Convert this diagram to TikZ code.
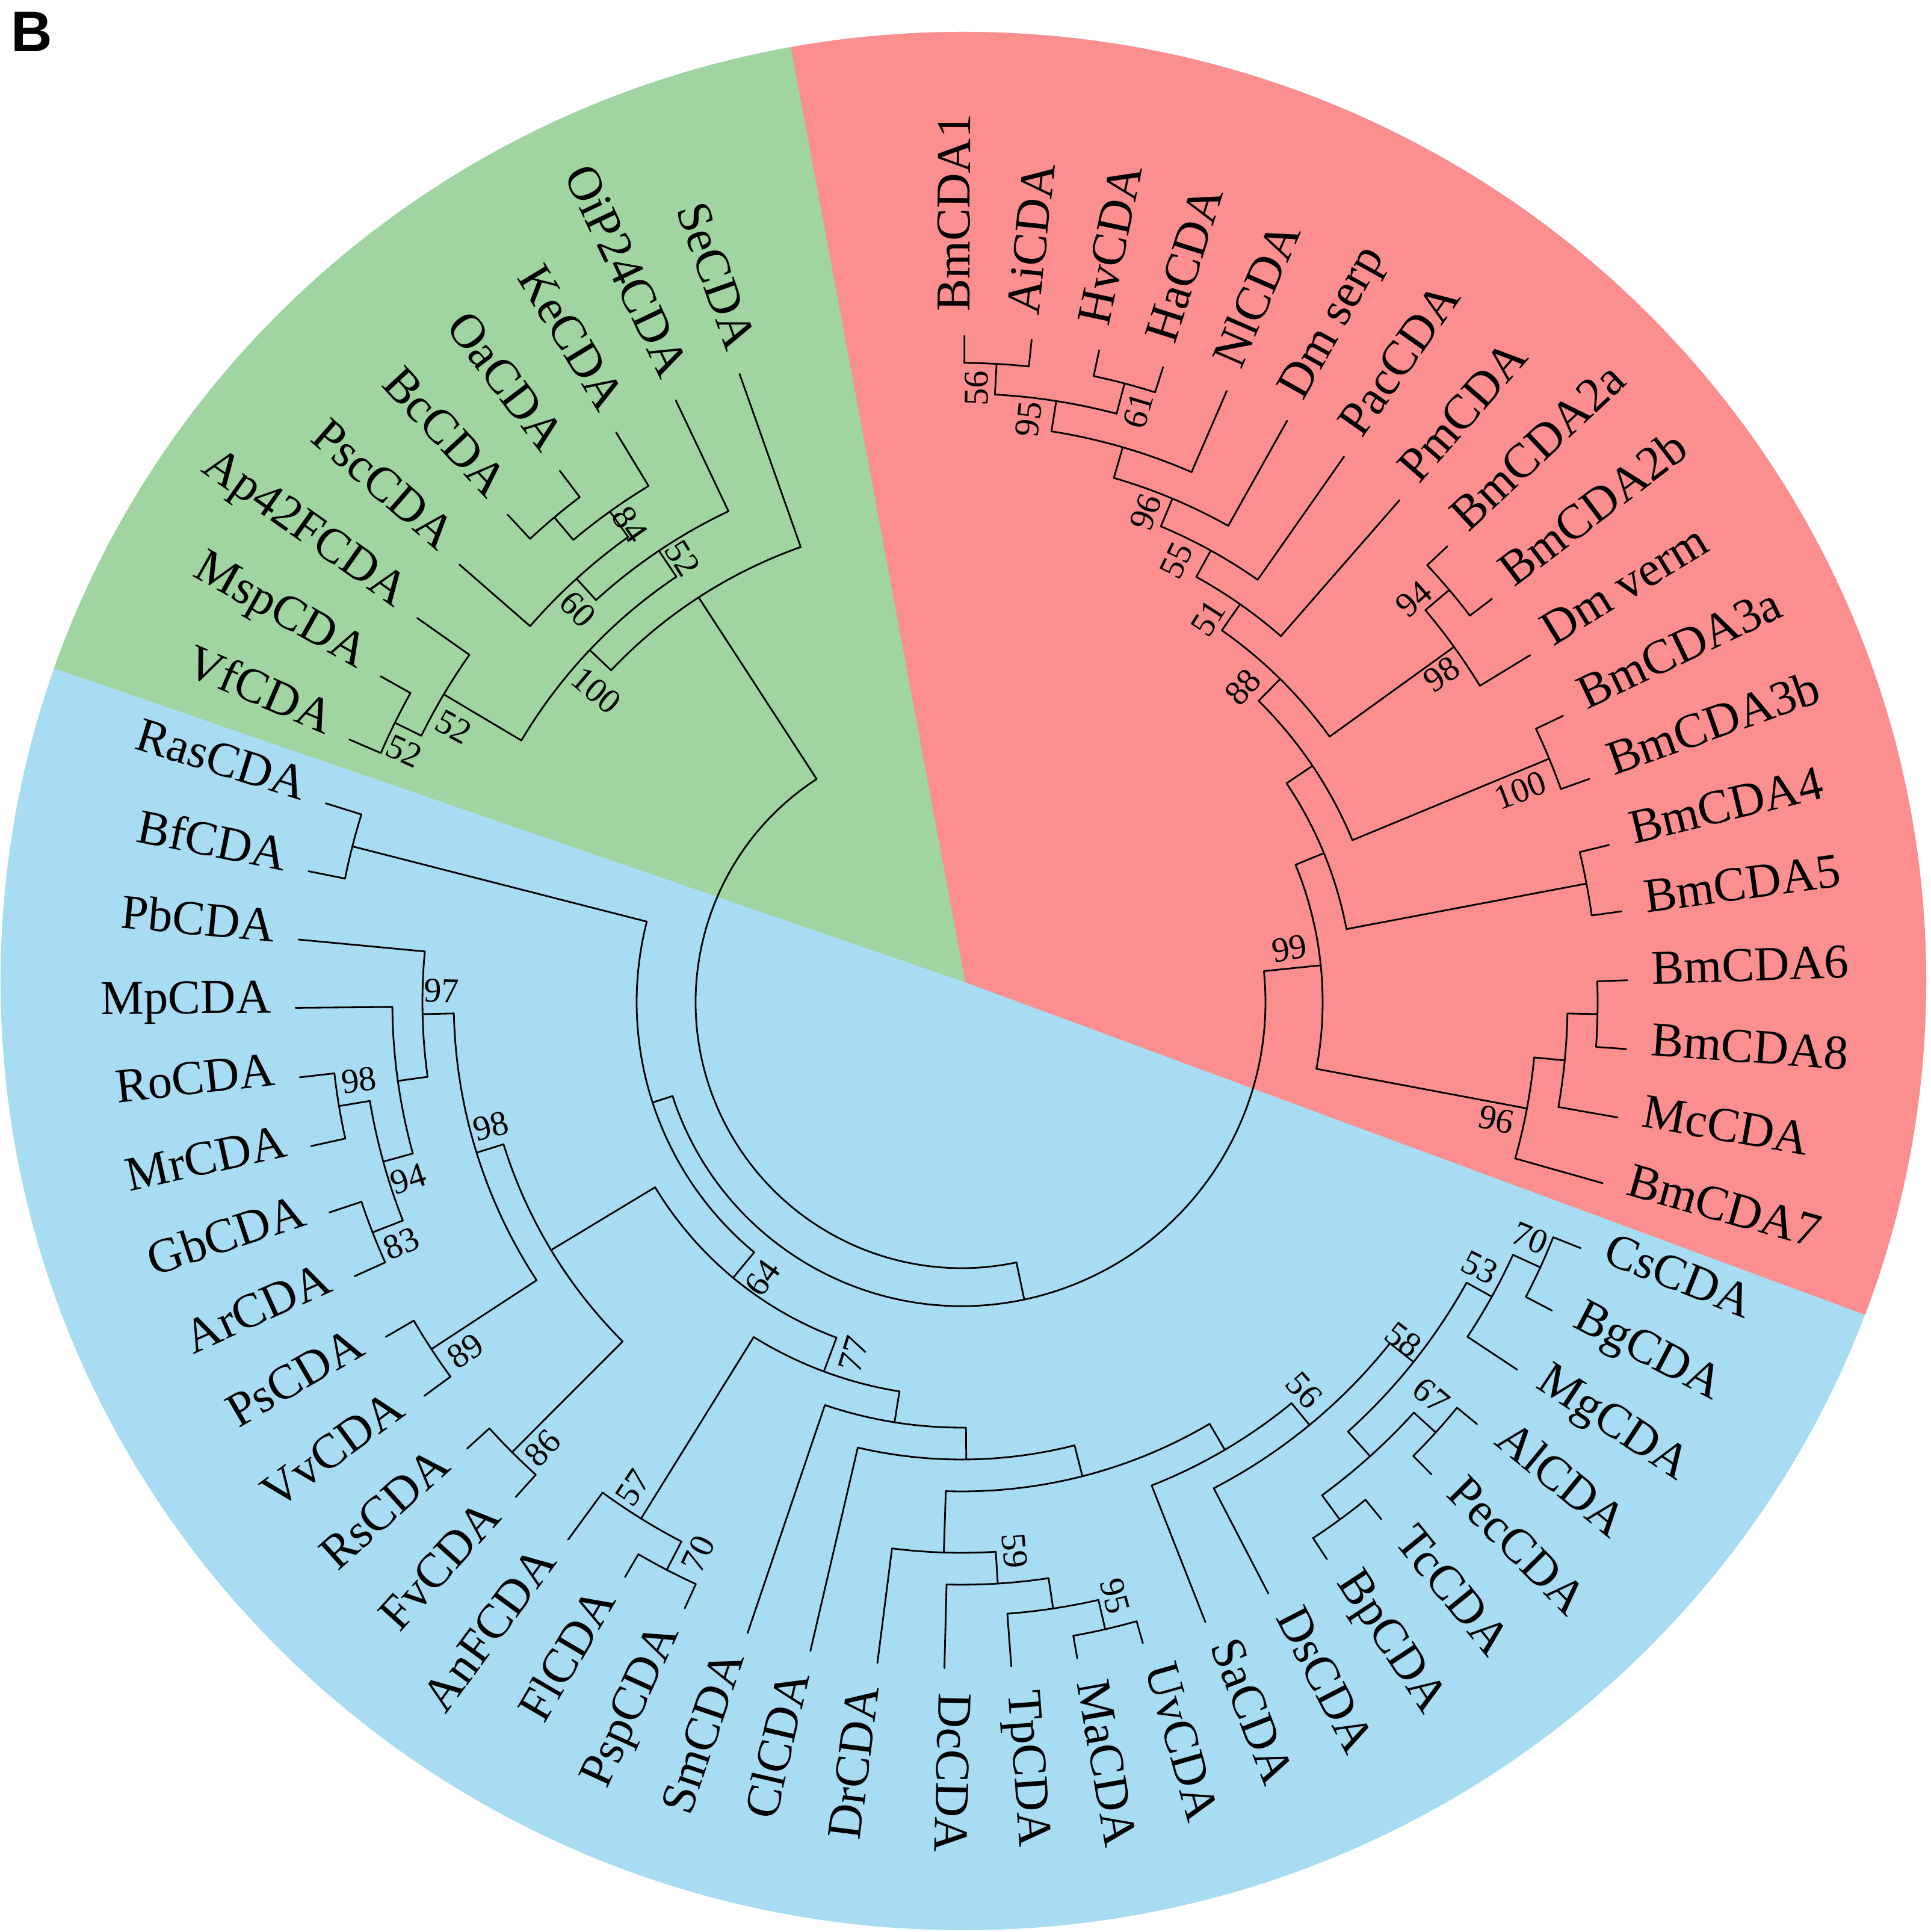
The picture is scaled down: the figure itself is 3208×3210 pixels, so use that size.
\documentclass[tikz,border=0pt]{standalone}
\usepackage{fontspec}
\setmainfont{Liberation Serif}
\newfontfamily\panelfont{Liberation Sans}
\usepackage{tikz}
\usetikzlibrary{calc}
\definecolor{cladegreen}{RGB}{160,212,160}
\definecolor{cladered}{RGB}{251,142,142}
\definecolor{cladeblue}{RGB}{168,220,242}

\tikzset{
  branch/.style={line width=0.8pt, line cap=round, line join=round},
  taxon/.style={inner sep=0pt, font=\fontsize{23}{26}\selectfont},
  boot/.style={inner sep=0pt, font=\fontsize{16.5}{18}\selectfont},
}
% arc of an internal node: from angle #1 to angle #2 at radius #3
\newcommand{\cladearc}[3]{\draw[branch] (#1:#3) arc[start angle=#1, end angle=#2, radius=#3];}
% stem of an internal node: at angle #1 from radius #2 down to radius #3
\newcommand{\cladestem}[3]{\draw[branch] (#1:#2) -- (#1:#3);}

\begin{document}
\begin{tikzpicture}[x=0.01cm, y=0.01cm]
\useasboundingbox (-1598,-1545) rectangle (1610,1665);

% coloured disk
\begin{scope}
\clip (3,35) ellipse [x radius=1600, y radius=1577];
\fill[cladeblue] (-1700,-1700) rectangle (1700,1700);
\fill[cladegreen] (6,33) -- (-341,1894) -- (-1805,1894) -- (-1805,657) -- cycle;
\fill[cladered] (6,33) -- (1806,-632) -- (1806,1894) -- (-341,1894) -- cycle;
\end{scope}

\node[anchor=base west, inner sep=0pt, font=\panelfont\bfseries\fontsize{27}{30}\selectfont] (panel) at (-1580,1579) {B};

% red clade
\cladearc{89.75}{83.96}{1062} \cladestem{86.86}{1062}{1011}
\cladearc{78.08}{72.39}{1063} \cladestem{75.24}{1063}{1011}
\cladearc{86.86}{75.24}{1011} \cladestem{81.05}{1011}{960}
\cladearc{81.05}{66.54}{960} \cladestem{73.8}{960}{907}
\cladearc{73.8}{60.75}{907} \cladestem{67.27}{907}{857}
\cladearc{67.27}{54.96}{857} \cladestem{61.1}{857}{807}
\cladearc{61.1}{48.89}{807} \cladestem{55.0}{807}{754}
\cladearc{43.17}{37.24}{1061} \cladestem{40.2}{1061}{1009}
\cladearc{40.2}{31.39}{1009} \cladestem{35.8}{1009}{754}
\cladearc{55.0}{35.8}{754} \cladestem{45.4}{754}{703}
\cladearc{25.45}{19.57}{1057} \cladestem{22.5}{1057}{703}
\cladearc{45.4}{22.5}{703} \cladestem{33.95}{703}{651}
\cladearc{13.64}{7.83}{1057} \cladestem{10.74}{1057}{651}
\cladearc{33.95}{10.74}{651} \cladestem{22.35}{651}{600}
\cladearc{1.88}{-4.04}{1057} \cladestem{-1.08}{1057}{1007}
\cladearc{-1.08}{-9.97}{1007} \cladestem{-5.52}{1007}{956}
\cladearc{-5.52}{-15.77}{956} \cladestem{-10.65}{956}{600}
\cladearc{22.35}{-10.65}{600} \cladestem{5.85}{600}{505}

% green clade
\cladearc{127.10}{132.97}{1052} \cladestem{130.04}{1052}{1003}
\cladearc{121.24}{130.04}{1003} \cladestem{125.64}{1003}{951}
\cladearc{125.64}{138.94}{951} \cladestem{132.29}{951}{903}
\cladearc{115.41}{132.29}{903} \cladestem{123.85}{903}{851}
\cladearc{150.72}{156.79}{1050} \cladestem{153.76}{1050}{1001}
\cladearc{144.80}{153.76}{1001} \cladestem{149.28}{1001}{851}
\cladearc{123.85}{149.28}{851} \cladestem{136.57}{851}{802}
\cladearc{109.47}{136.57}{802} \cladestem{123.02}{802}{442}

% blue clade
\cladearc{162.64}{168.67}{1045} \cladestem{165.66}{1045}{540}
\cladearc{186.48}{192.48}{1049} \cladestem{189.48}{1049}{997}
\cladearc{198.40}{204.30}{1051} \cladestem{201.35}{1051}{997}
\cladearc{189.48}{201.35}{997} \cladestem{195.42}{997}{946}
\cladearc{180.49}{195.42}{946} \cladestem{187.96}{946}{896}
\cladearc{174.61}{187.96}{896} \cladestem{181.28}{896}{844}
\cladearc{210.17}{216.23}{1053} \cladestem{213.2}{1053}{844}
\cladearc{181.28}{213.2}{844} \cladestem{197.24}{844}{797}
\cladearc{222.07}{227.98}{1057} \cladestem{225.03}{1057}{797}
\cladearc{197.24}{225.03}{797} \cladestem{211.13}{797}{595}
\cladearc{239.65}{245.45}{1063} \cladestem{242.55}{1063}{1010}
\cladearc{233.79}{242.55}{1010} \cladestem{238.17}{1010}{655}
\cladearc{280.00}{285.79}{1069} \cladestem{282.9}{1069}{1019}
\cladearc{274.28}{282.9}{1019} \cladestem{278.59}{1019}{968}
\cladearc{268.52}{278.59}{968} \cladestem{273.56}{968}{915}
\cladearc{262.74}{273.56}{915} \cladestem{268.15}{915}{813}
\cladearc{303.26}{309.07}{1065} \cladestem{306.17}{1065}{1015}
\cladearc{314.86}{320.70}{1064} \cladestem{317.78}{1064}{1015}
\cladearc{306.17}{317.78}{1015} \cladestem{311.98}{1015}{960}
\cladearc{332.42}{338.33}{1058} \cladestem{335.38}{1058}{1008}
\cladearc{326.52}{335.38}{1008} \cladestem{330.95}{1008}{960}
\cladearc{311.98}{330.95}{960} \cladestem{321.47}{960}{910}
\cladearc{297.42}{321.47}{910} \cladestem{309.45}{910}{863}
\cladearc{291.47}{309.45}{863} \cladestem{300.46}{863}{813}
\cladearc{268.15}{300.46}{813} \cladestem{284.3}{813}{760}
\cladearc{256.88}{284.3}{760} \cladestem{270.59}{760}{707}
\cladearc{251.26}{270.59}{707} \cladestem{260.93}{707}{655}
\cladearc{238.17}{260.93}{655} \cladestem{249.55}{655}{595}
\cladearc{211.13}{249.55}{595} \cladestem{230.34}{595}{540}
\cladearc{165.66}{230.34}{540} \cladestem{198.0}{540}{505}

% root
\cladearc{198.0}{365.85}{505} \cladestem{281.9}{505}{442}
\cladearc{123.02}{281.9}{442}

% leaves, text reading outwards
\foreach \a/\b/\n/\t in {89.75/1062/BmCDA1/BmCDA1, 83.96/1062/AiCDA/AiCDA,
  78.08/1063/HvCDA/HvCDA, 72.39/1063/HaCDA/HaCDA, 66.54/960/NlCDA/NlCDA,
  60.75/907/Dmserp/Dm serp, 54.96/857/PacCDA/PacCDA, 48.89/807/PmCDA/PmCDA,
  43.17/1061/BmCDA2a/BmCDA2a, 37.24/1061/BmCDA2b/BmCDA2b, 31.39/1009/Dmverm/Dm verm,
  25.45/1057/BmCDA3a/BmCDA3a, 19.57/1057/BmCDA3b/BmCDA3b, 13.64/1057/BmCDA4/BmCDA4,
  7.83/1057/BmCDA5/BmCDA5, 1.88/1057/BmCDA6/BmCDA6, -4.04/1057/BmCDA8/BmCDA8,
  -9.97/1007/McCDA/McCDA, -15.77/956/BmCDA7/BmCDA7, -21.67/1058/CsCDA/CsCDA,
  -27.58/1058/BgCDA/BgCDA, -33.48/1008/MgCDA/MgCDA, -39.30/1064/AlCDA/AlCDA,
  -45.14/1064/PecCDA/PecCDA, -50.93/1065/TcCDA/TcCDA, -56.74/1065/BpCDA/BpCDA,
  -62.58/910/DsCDA/DsCDA, -68.53/863/SaCDA/SaCDA, -74.21/1069/UvCDA/UvCDA,
  -80.00/1069/MaCDA/MaCDA, -85.72/1019/TpCDA/TpCDA, -91.48/968/DcCDA/DcCDA}{
  \draw[branch] (\a:\b) -- (\a:1107);
  \node[taxon, anchor=mid west, rotate=\a] (\n) at (\a:1147) {\t};
}
% leaves, text reading inwards
\foreach \a/\b/\n/\t in {109.47/802/SeCDA/SeCDA, 115.41/903/OiP24CDA/OiP24CDA,
  121.24/1003/KeCDA/KeCDA, 127.10/1052/OaCDA/OaCDA, 132.97/1052/BcCDA/BcCDA,
  138.94/951/PscCDA/PscCDA, 144.80/1001/ApCDA/Ap42FCDA, 150.72/1050/MspCDA/MspCDA,
  156.79/1050/VfCDA/VfCDA, 162.64/1045/RasCDA/RasCDA, 168.67/1045/BfCDA/BfCDA,
  174.61/896/PbCDA/PbCDA, 180.49/946/MpCDA/MpCDA, 186.48/1049/RoCDA/RoCDA,
  192.48/1049/MrCDA/MrCDA, 198.40/1051/GbCDA/GbCDA, 204.30/1051/ArCDA/ArCDA,
  210.17/1053/PsCDA/PsCDA, 216.23/1053/VvCDA/VvCDA, 222.07/1057/RsCDA/RsCDA,
  227.98/1057/FvCDA/FvCDA, 233.79/1010/AnFCDA/AnFCDA, 239.65/1063/FlCDA/FlCDA,
  245.45/1063/PspCDA/PspCDA, 251.26/707/SmCDA/SmCDA, 256.88/760/ClCDA/ClCDA,
  262.74/915/DrCDA/DrCDA}{
  \draw[branch] (\a:\b) -- (\a:1107);
  \node[taxon, anchor=mid east, rotate=\a+180] (\n) at (\a:1147) {\t};
}

% bootstrap values
\foreach \a/\r/\t [count=\i] in {88.6/1020/56, 83.44/975/95, 73.36/1026/61,
  69.4/870/96, 64.05/816/55, 57.27/758/51, 48.23/702/88, 41.71/1007/94,
  34.34/966/98, 20.75/993/100, 9.26/552/99, -12.39/910/96, 275.53/916/59,
  284.5/1019/95, 311.45/860/56, 322.65/924/58, 320.03/1018/67, 332.88/967/53,
  337.48/1023/70}{
  \node[boot, rotate=\a] (bsR\i) at (\a:\r) {\t};
}
\foreach \a/\r/\t [count=\i] in {124.79/966/84, 134.33/913/60, 122.16/871/52,
  139.53/798/100, 151.55/960/52, 155.77/1016/52, 178.76/864/97, 187.39/1010/98,
  197.7/965/94, 203.28/1014/83, 194.73/809/98, 215.1/1008/89, 226.77/1017/86,
  235.91/974/57, 244.46/1016/70, 234.2/565/64, 252.93/612/77}{
  \node[boot, rotate=\a+180] (bsL\i) at (\a:\r) {\t};
}
\end{tikzpicture}
\end{document}
